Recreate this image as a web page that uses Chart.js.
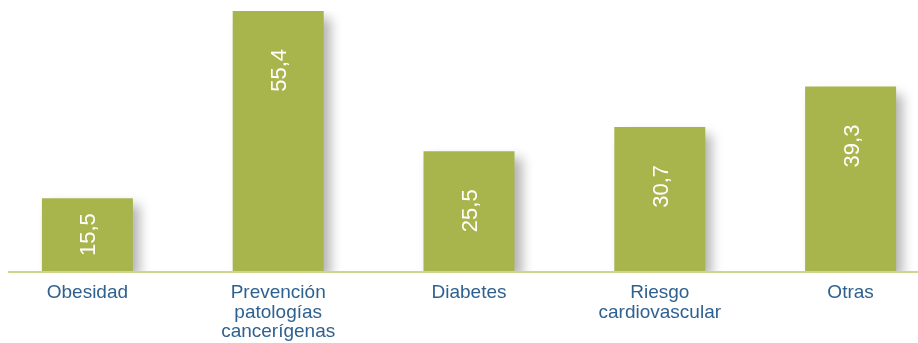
<!DOCTYPE html>
<html>
<head>
<meta charset="utf-8">
<script src="https://cdn.jsdelivr.net/npm/chart.js@4/dist/chart.umd.min.js"></script>
<style>
  html, body { margin: 0; padding: 0; background: #fff; overflow: hidden; }
  #wrap { position: absolute; left: -8px; top: 0; width: 954px; height: 343px; }
</style>
</head>
<body>
<div id="wrap"><canvas id="barChart" width="954" height="343"></canvas></div>
<script>
var categories = [
  ['Obesidad'],
  ['Prevención', 'patologías', 'cancerígenas'],
  ['Diabetes'],
  ['Riesgo', 'cardiovascular'],
  ['Otras']
];

var values = [15.5, 55.4, 25.5, 30.7, 39.3];

var valueLabels = ['15,5', '55,4', '25,5', '30,7', '39,3'];

var barColor = '#a7b54c';
var labelColor = '#2f6190';
var lineColor = '#cdd68b';

// sombra gris a la derecha de cada barra + etiquetas verticales + linea base
var barDecor = {
  id: 'barDecor',
  beforeDatasetsDraw: function(chart) {
    var ctx = chart.ctx;
    ctx.save();
    ctx.shadowColor = 'rgba(0, 0, 0, 0.3)';
    ctx.shadowBlur = 11;
    ctx.shadowOffsetX = 7;
    ctx.shadowOffsetY = 7;
  },
  afterDatasetsDraw: function(chart) {
    var ctx = chart.ctx;
    ctx.restore();

    var area = chart.chartArea;
    ctx.save();
    ctx.strokeStyle = lineColor;
    ctx.lineWidth = 2;
    ctx.beginPath();
    ctx.moveTo(16, area.bottom + 1);
    ctx.lineTo(chart.width, area.bottom + 1);
    ctx.stroke();
    ctx.restore();

    var meta = chart.getDatasetMeta(0);
    ctx.font = '22px "Liberation Sans", Arial, sans-serif';
    meta.data.forEach(function(bar, i) {
      var textW = ctx.measureText(valueLabels[i]).width;
      var h = bar.base - bar.y;
      var gap = Math.min(38, (h - textW) / 2);
      ctx.save();
      ctx.translate(bar.x, bar.y + gap);
      ctx.rotate(-Math.PI / 2);
      ctx.font = '22px "Liberation Sans", Arial, sans-serif';
      ctx.fillStyle = '#ffffff';
      ctx.textAlign = 'right';
      ctx.textBaseline = 'alphabetic';
      ctx.fillText(valueLabels[i], 0, 8);
      ctx.restore();
    });
  }
};

var ctx = document.getElementById('barChart').getContext('2d');

var chart = new Chart(ctx, {
  type: 'bar',
  data: {
    labels: categories,
    datasets: [
      {
        data: values,
        backgroundColor: barColor,
        borderWidth: 0,
        categoryPercentage: 1,
        barPercentage: 0.477
      }
    ]
  },
  options: {
    responsive: false,
    animation: false,
    layout: {
      padding: { top: 11, left: 0, right: 0, bottom: 0 }
    },
    plugins: {
      legend: { display: false },
      tooltip: { enabled: false }
    },
    scales: {
      x: {
        grid: { display: false, drawTicks: false },
        border: { display: false },
        ticks: {
          color: labelColor,
          padding: 12,
          maxRotation: 0,
          autoSkip: false,
          font: { family: '"Liberation Sans", Arial, sans-serif', size: 19, lineHeight: 1.03 }
        },
        afterFit: function(scale) {
          scale.height = 72;
        }
      },
      y: {
        display: false,
        min: 0,
        max: 55.4
      }
    }
  },
  plugins: [barDecor]
});
</script>
</body>
</html>
